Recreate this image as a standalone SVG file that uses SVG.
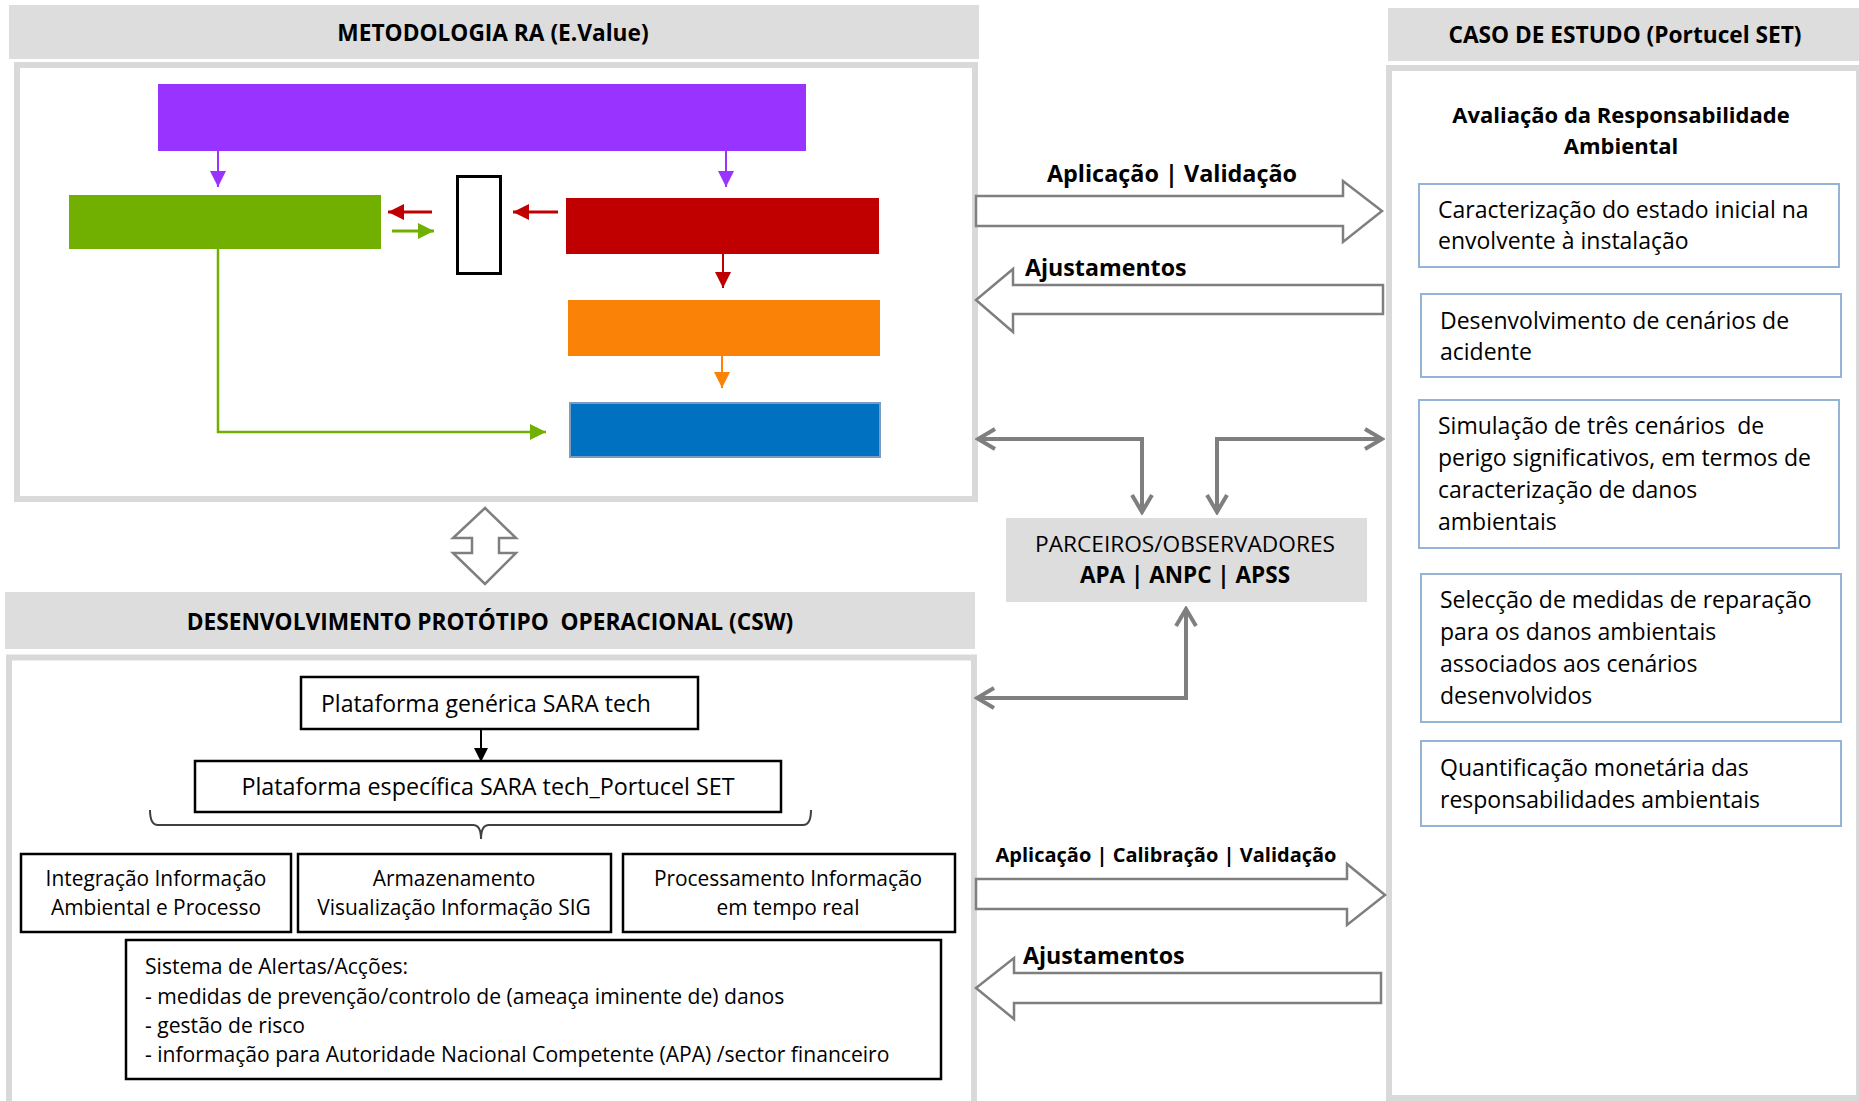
<svg xmlns="http://www.w3.org/2000/svg" width="1859" height="1101" viewBox="0 0 1859 1101">
<style>
text{font-family:"Open Sans","Liberation Sans",sans-serif;fill:#000}
.hdr{fill:#dddddd;stroke:none}
.panel{fill:#fff;stroke:#d9d9d9;stroke-width:6}
.ht{font-size:22.7px;font-weight:bold;text-anchor:middle}
.bt{font-size:23px}
.bb{font-size:22px;font-weight:bold;text-anchor:middle}
.rbox{fill:#fff;stroke:#95b3d7;stroke-width:2}
.kbox{fill:#fff;stroke:#000;stroke-width:2.5}
.blk{fill:#fff;stroke:#7f7f7f;stroke-width:2.5;stroke-linejoin:miter}
.con{fill:none;stroke:#7f7f7f;stroke-width:4}
.lbl{font-size:23.4px;font-weight:bold}
.sm{font-size:20.9px;text-anchor:middle}
.sis{font-size:21.1px}
.pre{white-space:pre}
</style>
<defs>
<marker id="chev" viewBox="0 0 22 24" markerWidth="22" markerHeight="24" refX="19" refY="12" orient="auto-start-reverse" markerUnits="userSpaceOnUse">
<path d="M2,2 L19,12 L2,22" fill="none" stroke="#7f7f7f" stroke-width="4"/>
</marker>
<marker id="tPur" viewBox="0 0 16 16" markerWidth="16" markerHeight="16" refX="16" refY="8" orient="auto" markerUnits="userSpaceOnUse"><path d="M0,0 L16,8 L0,16 z" fill="#9933FF"/></marker>
<marker id="tRed" viewBox="0 0 16 16" markerWidth="16" markerHeight="16" refX="16" refY="8" orient="auto" markerUnits="userSpaceOnUse"><path d="M0,0 L16,8 L0,16 z" fill="#C00000"/></marker>
<marker id="tGrn" viewBox="0 0 16 16" markerWidth="16" markerHeight="16" refX="16" refY="8" orient="auto" markerUnits="userSpaceOnUse"><path d="M0,0 L16,8 L0,16 z" fill="#71AF00"/></marker>
<marker id="tOrg" viewBox="0 0 16 16" markerWidth="16" markerHeight="16" refX="16" refY="8" orient="auto" markerUnits="userSpaceOnUse"><path d="M0,0 L16,8 L0,16 z" fill="#FA8207"/></marker>
<marker id="tBlk" viewBox="0 0 14 14" markerWidth="14" markerHeight="14" refX="14" refY="7" orient="auto" markerUnits="userSpaceOnUse"><path d="M0,0 L14,7 L0,14 z" fill="#000"/></marker>
</defs>

<!-- Panels -->
<g id="panel-metodologia">
<rect class="hdr" x="9" y="5" width="970" height="54"/>
<text class="ht" x="493" y="41">METODOLOGIA RA (E.Value)</text>
<rect class="panel" x="17" y="65" width="958" height="434"/>
</g>
<g id="panel-caso">
<rect class="hdr" x="1388" y="8" width="471" height="53"/>
<text class="ht" x="1625" y="43">CASO DE ESTUDO (Portucel SET)</text>
<rect class="panel" x="1389" y="68" width="470" height="1030"/>
<text class="bb" x="1621" y="123">Avaliação da Responsabilidade</text>
<text class="bb" x="1621" y="154">Ambiental</text>
</g>
<g id="panel-desenvolvimento">
<rect class="hdr" x="5" y="592" width="970" height="57"/>
<text class="ht pre" x="490" y="630">DESENVOLVIMENTO PROTÓTIPO  OPERACIONAL (CSW)</text>
<rect class="panel" x="9" y="657.5" width="965" height="500"/>
</g>

<!-- Metodologia nodes -->
<g id="n-purple"><rect x="158" y="84" width="648" height="67" fill="#9933FF"/></g>
<g id="n-green"><rect x="69" y="195" width="312" height="54" fill="#71AF00"/></g>
<g id="n-small"><rect x="457.5" y="176.5" width="43" height="97" fill="#fff" stroke="#000" stroke-width="3"/></g>
<g id="n-red"><rect x="566" y="198" width="313" height="56" fill="#C00000"/></g>
<g id="n-orange"><rect x="568" y="300" width="312" height="56" fill="#FA8207"/></g>
<g id="n-blue"><rect x="570" y="403" width="310" height="54" fill="#0070C0" stroke="#7a9cc0" stroke-width="2"/></g>

<!-- Caso de estudo nodes -->
<g id="n-caso1"><rect class="rbox" x="1419" y="184" width="420" height="83"/>
<text class="bt" x="1438" y="218">Caracterização do estado inicial na</text>
<text class="bt" x="1438" y="249">envolvente à instalação</text></g>
<g id="n-caso2"><rect class="rbox" x="1421" y="294" width="420" height="83"/>
<text class="bt" x="1440" y="329">Desenvolvimento de cenários de</text>
<text class="bt" x="1440" y="360">acidente</text></g>
<g id="n-caso3"><rect class="rbox" x="1419" y="400" width="420" height="148"/>
<text class="bt pre" x="1438" y="434">Simulação de três cenários  de</text>
<text class="bt" x="1438" y="466">perigo significativos, em termos de</text>
<text class="bt" x="1438" y="498">caracterização de danos</text>
<text class="bt" x="1438" y="530">ambientais</text></g>
<g id="n-caso4"><rect class="rbox" x="1421" y="574" width="420" height="148"/>
<text class="bt" x="1440" y="608">Selecção de medidas de reparação</text>
<text class="bt" x="1440" y="640">para os danos ambientais</text>
<text class="bt" x="1440" y="672">associados aos cenários</text>
<text class="bt" x="1440" y="704">desenvolvidos</text></g>
<g id="n-caso5"><rect class="rbox" x="1421" y="741" width="420" height="85"/>
<text class="bt" x="1440" y="776">Quantificação monetária das</text>
<text class="bt" x="1440" y="808">responsabilidades ambientais</text></g>

<!-- Parceiros -->
<g id="n-parceiros"><rect class="hdr" x="1006" y="518" width="361" height="84"/>
<text x="1185" y="552" style="font-size:22.7px;text-anchor:middle">PARCEIROS/OBSERVADORES</text>
<text class="bb" x="1185" y="583" style="font-size:22.5px">APA | ANPC | APSS</text></g>

<!-- Desenvolvimento nodes -->
<g id="n-generica"><rect class="kbox" x="301" y="677" width="397" height="52"/>
<text class="bt" x="321" y="712">Plataforma genérica SARA tech</text></g>
<g id="n-especifica"><rect class="kbox" x="195" y="761" width="586" height="51"/>
<text class="bt" x="488" y="795" text-anchor="middle" style="font-size:23.3px">Plataforma específica SARA tech_Portucel SET</text></g>
<g id="n-integracao"><rect class="kbox" x="21" y="854" width="270" height="78"/>
<text class="sm" x="156" y="886">Integração Informação</text>
<text class="sm" x="156" y="915">Ambiental e Processo</text></g>
<g id="n-armazenamento"><rect class="kbox" x="298" y="854" width="313" height="78"/>
<text class="sm" x="454" y="886">Armazenamento</text>
<text class="sm" x="454" y="915">Visualização Informação SIG</text></g>
<g id="n-processamento"><rect class="kbox" x="623" y="854" width="332" height="78"/>
<text class="sm" x="788" y="886">Processamento Informação</text>
<text class="sm" x="788" y="915">em tempo real</text></g>
<g id="n-sistema"><rect class="kbox" x="126" y="940" width="815" height="139"/>
<text class="sis" x="145" y="974">Sistema de Alertas/Acções:</text>
<text class="sis" x="145" y="1004">- medidas de prevenção/controlo de (ameaça iminente de) danos</text>
<text class="sis" x="145" y="1033">- gestão de risco</text>
<text class="sis" x="145" y="1062">- informação para Autoridade Nacional Competente (APA) /sector financeiro</text></g>

<!-- Connectors -->
<g id="connectors">
<path d="M218,151 V187" stroke="#9933FF" stroke-width="2" marker-end="url(#tPur)"/>
<path d="M726,151 V187" stroke="#9933FF" stroke-width="2" marker-end="url(#tPur)"/>
<path d="M432,212 H388" stroke="#C00000" stroke-width="3" marker-end="url(#tRed)"/>
<path d="M558,212 H513" stroke="#C00000" stroke-width="3" marker-end="url(#tRed)"/>
<path d="M392,231 H434" stroke="#71AF00" stroke-width="3" marker-end="url(#tGrn)"/>
<path d="M723,254 V288" stroke="#C00000" stroke-width="2" marker-end="url(#tRed)"/>
<path d="M722,356 V388" stroke="#FA8207" stroke-width="2" marker-end="url(#tOrg)"/>
<path d="M218,249 V432 H546" fill="none" stroke="#71AF00" stroke-width="2.5" marker-end="url(#tGrn)"/>
<path d="M481,729 V762" stroke="#000" stroke-width="2" marker-end="url(#tBlk)"/>
<path d="M150,810 Q150,825 158,825 L473,825 Q481,825 481,839 Q481,825 489,825 L803,825 Q811,825 811,810" fill="none" stroke="#404040" stroke-width="2"/>
<polygon class="blk" points="485,508 516,538 499,538 499,553 516,553 485,584 453,553 472,553 472,538 453,538"/>
<polygon class="blk" points="976,196 1343,196 1343,181 1382,211 1343,242 1343,226 976,226"/>
<polygon class="blk" points="1383,285 1013,285 1013,269 976,300 1013,332 1013,314 1383,314"/>
<polygon class="blk" points="976,879 1347,879 1347,864 1385,895 1347,925 1347,909 976,909"/>
<polygon class="blk" points="1381,973 1014,973 1014,958 976,988 1014,1019 1014,1003 1381,1003"/>
<path class="con" d="M978,439 H1142 V512" marker-start="url(#chev)" marker-end="url(#chev)"/>
<path class="con" d="M1217,512 V439 H1382" marker-start="url(#chev)" marker-end="url(#chev)"/>
<path class="con" d="M1186,609 V698 H977" marker-start="url(#chev)" marker-end="url(#chev)"/>
<text class="lbl" x="1172" y="182" text-anchor="middle">Aplicação | Validação</text>
<text class="lbl" x="1025" y="276" style="font-size:23.2px">Ajustamentos</text>
<text class="lbl" x="1166" y="862" text-anchor="middle" style="font-size:20px">Aplicação | Calibração | Validação</text>
<text class="lbl" x="1023" y="964" style="font-size:23.2px">Ajustamentos</text>
</g>
</svg>
